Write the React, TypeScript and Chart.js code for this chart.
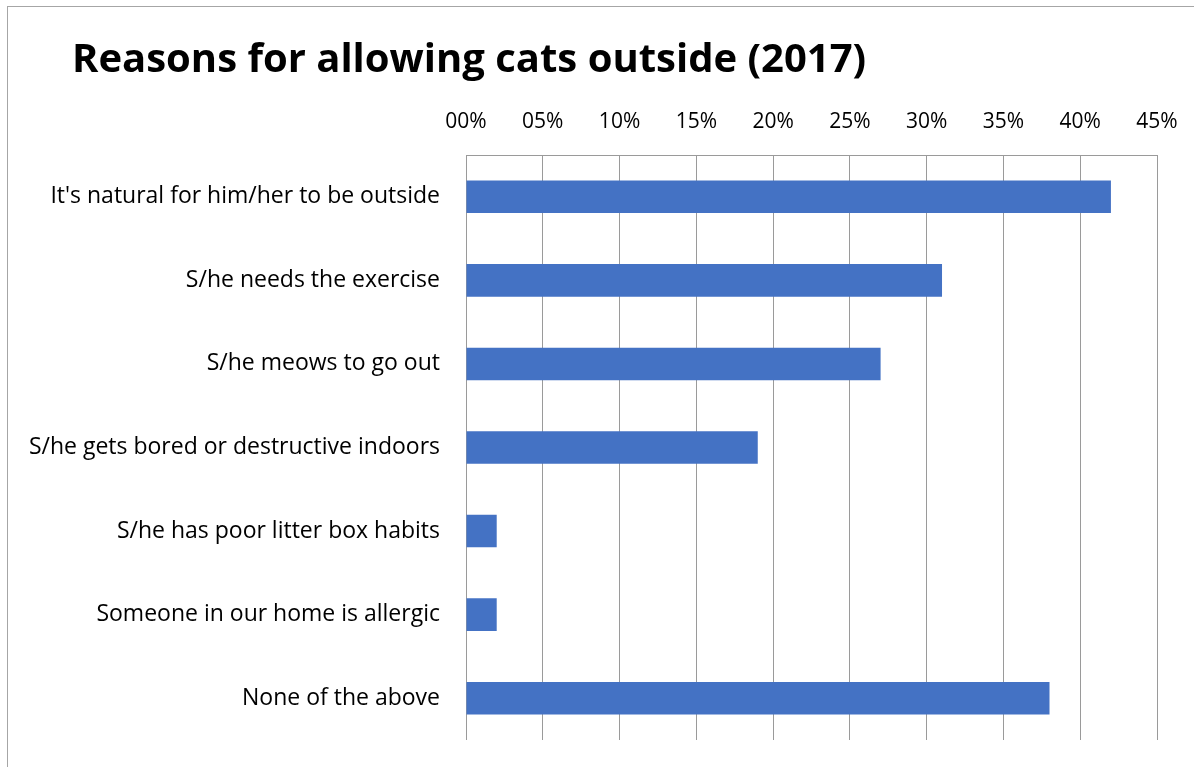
import React, { useEffect, useRef } from "react";
import { Chart, registerables } from "chart.js";

Chart.register(...registerables);

const titleText = "Reasons for allowing cats outside (2017)";
const categories = [
  "It's natural for him/her to be outside",
  "S/he needs the exercise",
  "S/he meows to go out",
  "S/he gets bored or destructive indoors",
  "S/he has poor litter box habits",
  "Someone in our home is allergic",
  "None of the above",
];
const values = [42, 31, 27, 19, 2, 2, 38];
const tickLabels = ["00%", "05%", "10%", "15%", "20%", "25%", "30%", "35%", "40%", "45%"];

const FONT = "'Open Sans', Lato, sans-serif";

const titlePlugin = {
  id: "customTitle",
  afterDraw(chart: any) {
    const ctx = chart.ctx;
    ctx.save();
    ctx.font = `bold 40px ${FONT}`;
    ctx.fillStyle = "#000000";
    ctx.textBaseline = "alphabetic";
    ctx.textAlign = "left";
    ctx.fillText(titleText, 72, 72);
    ctx.restore();
  },
};

export default function App() {
  const ref = useRef<HTMLCanvasElement | null>(null);
  useEffect(() => {
    if (!ref.current) return;
    const chart = new Chart(ref.current, {
      type: "bar",
      data: {
        labels: categories,
        datasets: [
          {
            data: values,
            backgroundColor: "#4472C4",
            borderWidth: 0,
            categoryPercentage: 1,
            barPercentage: 0.39,
          },
        ],
      },
      options: {
        indexAxis: "y",
        responsive: false,
        animation: false,
        layout: { padding: { top: 90, right: 37, bottom: 27, left: 0 } },
        plugins: {
          legend: { display: false },
          title: { display: false },
          tooltip: { enabled: false },
        },
        scales: {
          x: {
            position: "top",
            min: 0,
            max: 45,
            ticks: {
              stepSize: 5,
              padding: 20,
              color: "#000000",
              font: { family: FONT, size: 21 },
              callback: (v: any) => tickLabels[Math.round(Number(v) / 5)],
            },
            grid: { color: "#9a9a9a", lineWidth: 1, drawTicks: false },
            border: { display: true, color: "#9a9a9a" },
            afterFit: (s: any) => {
              s.height = 65;
              s.paddingLeft = 0;
              s.paddingRight = 0;
            },
          },
          y: {
            ticks: {
              padding: 26,
              color: "#000000",
              font: { family: FONT, size: 23 },
            },
            grid: { display: false, drawTicks: false },
            border: { display: false },
            afterFit: (s: any) => {
              s.width = 466;
              s.paddingTop = 0;
              s.paddingBottom = 0;
            },
          },
        },
      },
      plugins: [titlePlugin],
    });
    return () => chart.destroy();
  }, []);

  return (
    <div style={{ position: "fixed", left: 0, top: 0, width: 1194, height: 767, background: "#fff" }}>
      <div
        style={{
          position: "absolute",
          left: 7,
          top: 6,
          width: 1187,
          height: 761,
          borderLeft: "1px solid #a6a6a6",
          borderTop: "1px solid #a6a6a6",
          boxSizing: "border-box",
        }}
      />
      <canvas ref={ref} width={1194} height={767} style={{ position: "absolute", left: 0, top: 0, width: 1194, height: 767 }} />
    </div>
  );
}
